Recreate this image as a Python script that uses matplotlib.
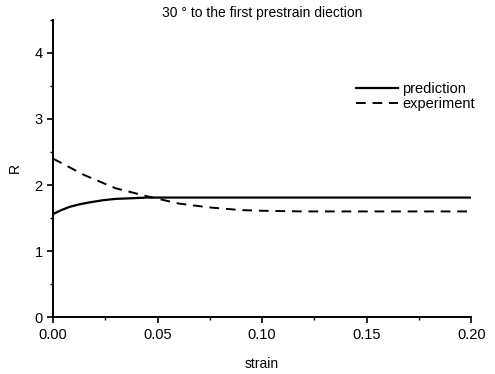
import matplotlib
matplotlib.use("Agg")
import matplotlib.pyplot as plt
from matplotlib.ticker import MultipleLocator

plt.rcParams["font.family"] = ["Liberation Sans", "DejaVu Sans"]

# values
pred_strain = [0.0, 0.004, 0.008, 0.013, 0.018, 0.024, 0.03, 0.038, 0.045, 0.06, 0.10, 0.15, 0.20]
pred_r = [1.56, 1.62, 1.67, 1.71, 1.74, 1.77, 1.79, 1.80, 1.81, 1.81, 1.81, 1.81, 1.81]

exp_strain = [0.0, 0.015, 0.03, 0.045, 0.06, 0.075, 0.09, 0.10, 0.12, 0.15, 0.198]
exp_r = [2.40, 2.15, 1.95, 1.83, 1.72, 1.66, 1.62, 1.61, 1.60, 1.60, 1.60]

fig = plt.figure(figsize=(4.95, 3.74), dpi=100)
ax = fig.add_axes([0.107, 0.152, 0.845, 0.795])

ax.plot(pred_strain, pred_r, "-", color="black", lw=1.6, label="prediction")
ax.plot(exp_strain, exp_r, "--", color="black", lw=1.4, dashes=(5, 3.5), label="experiment")

ax.set_xlim(0, 0.20)
ax.set_ylim(0, 4.5)
ax.xaxis.set_major_locator(MultipleLocator(0.05))
ax.xaxis.set_minor_locator(MultipleLocator(0.025))
ax.yaxis.set_major_locator(MultipleLocator(1))
ax.yaxis.set_minor_locator(MultipleLocator(0.5))
ax.set_xticklabels([f"{v:.2f}" for v in ax.get_xticks()])

for side in ("top", "right"):
    ax.spines[side].set_visible(False)
for side in ("left", "bottom"):
    ax.spines[side].set_linewidth(1.4)
ax.tick_params(which="major", direction="out", length=4, width=1.2, labelsize=10.5)
ax.tick_params(which="minor", direction="out", length=2.5, width=1.0)

ax.set_xlabel("strain", fontsize=10, labelpad=11)
ax.set_ylabel("R", fontsize=10, labelpad=9)
ax.set_title("30 ° to the first prestrain diection", fontsize=10, pad=-5)

ax.legend(loc="upper right", bbox_to_anchor=(1.04, 0.835), frameon=False,
          fontsize=10.5, handlelength=2.9, handletextpad=0.3, labelspacing=0.1)

fig.savefig("out.png", dpi=100)
